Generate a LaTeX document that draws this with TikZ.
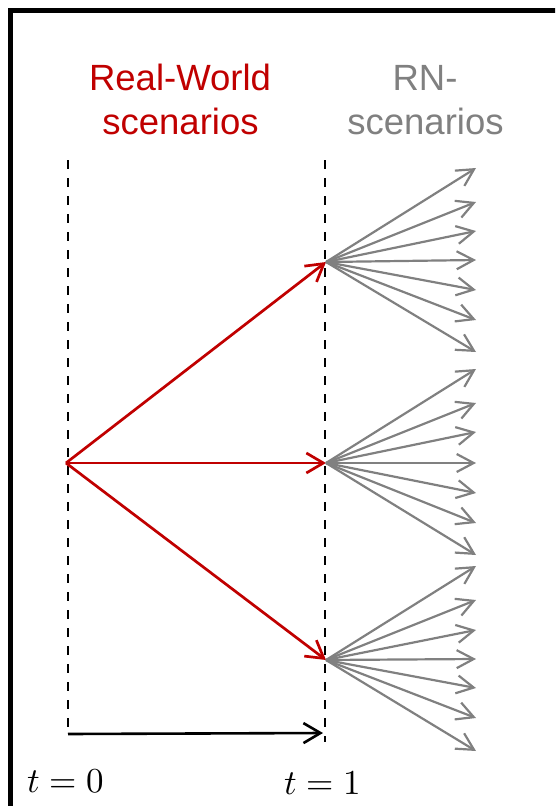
\documentclass[tikz,border=0pt]{standalone}
\usepackage{fontspec}
\usepackage{unicode-math}
\setmainfont{Liberation Sans}
\setmathfont{Latin Modern Math}
\usetikzlibrary{arrows.meta}
\definecolor{rwred}{RGB}{192,0,0}
\definecolor{rngrey}{RGB}{128,128,128}
\tikzset{
  guide/.style={black, line width=2.9pt, dash pattern=on 9pt off 9pt},
  rwarrow/.style={rwred, line width=2.7pt, -{Straight Barb[length=17pt,width=20pt,line width=2.7pt]}},
  rnarrow/.style={rngrey, line width=2.2pt, -{Straight Barb[length=17pt,width=18pt,line width=2.2pt]}},
  timearrow/.style={black, line width=2.6pt, -{Straight Barb[length=17pt,width=20pt,line width=2.6pt]}},
  headtxt/.style={font=\fontsize{36.5}{46}\selectfont, anchor=base, inner sep=0pt},
  mathtxt/.style={font=\fontsize{35}{40}\selectfont, anchor=base west, inner sep=0pt}
}
\begin{document}
\begin{tikzpicture}[x=1pt,y=-1pt]
\useasboundingbox (0,0) rectangle (555,806);
\clip (0,0) rectangle (555,806);
% frame (extends beyond right and bottom edges)
\draw[line width=4.5pt] (10.5,10.5) rectangle (620,880);
% headings
\node[headtxt, text=rwred] (rw1) at (180,90) {Real-World};
\node[headtxt, text=rwred] (rw2) at (180.5,134) {scenarios};
\node[headtxt, text=rngrey] (rn1) at (425,90) {RN-};
\node[headtxt, text=rngrey] (rn2) at (425.5,134) {scenarios};
% guides
\coordinate (g0top) at (68,160);
\coordinate (g0bot) at (68,735);
\coordinate (g1top) at (325,160);
\coordinate (g1bot) at (325,742);
\draw[guide] (g0top) -- (g0bot);
\draw[guide] (g1top) -- (g1bot);
% real-world scenarios
\coordinate (o) at (66,463);
\coordinate (a) at (326,262);
\coordinate (b) at (326,463);
\coordinate (c) at (326,660);
\draw[rwarrow] (o) -- (a);
\draw[rwarrow] (o) -- (b);
\draw[rwarrow] (o) -- (c);
% RN fans
\foreach \src/\ys in {a/{168,202,231,260,290,320,352},
                      b/{369,403,432,463,493,523,555},
                      c/{566,600,630,659,688,718,751}}{
  \foreach \y [count=\i] in \ys {
    \coordinate (\src tip\i) at (476,\y);
    \draw[rnarrow] (\src) -- (\src tip\i);
  }
}
% time axis
\coordinate (t0) at (68,734);
\coordinate (t1) at (323,733);
\draw[timearrow] (t0) -- (t1);
\node[mathtxt] (lab0) at (27,792) {$t=0$};
\node[mathtxt] (lab1) at (284,794) {$t=1$};
\end{tikzpicture}
\end{document}
